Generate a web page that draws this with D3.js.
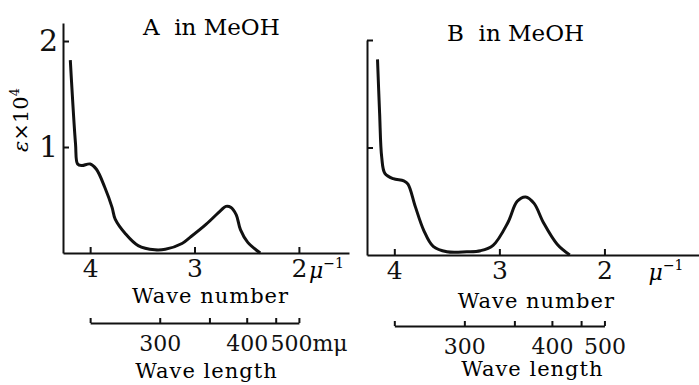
<!DOCTYPE html>
<html>
  <head>
    <meta charset="utf-8" />
    <title>UV spectra A and B in MeOH</title>
    <script src="https://d3js.org/d3.v7.min.js"></script>
    <style>
      body {
        margin: 0;
        background: #fff;
      }
      .domain, .tick line {
        stroke: #111;
        stroke-width: 2;
      }
    </style>
  </head>
  <body>
    <svg id="chart"></svg>
    <script>
      // wave number (mu^-1) and epsilon x 10^4
      var waveA = [4.19, 4.14, 4.12, 4.08, 4.00, 3.94, 3.86, 3.79, 3.76, 3.66, 3.54, 3.38, 3.28, 3.12, 3.04, 2.89, 2.75, 2.70, 2.65, 2.60, 2.56, 2.49, 2.37];
      var epsA  = [1.82, 1.03, 0.84, 0.825, 0.84, 0.79, 0.62, 0.43, 0.32, 0.18, 0.07, 0.03, 0.035, 0.09, 0.15, 0.27, 0.40, 0.44, 0.43, 0.36, 0.22, 0.10, 0];
      var waveB = [4.16, 4.14, 4.12, 4.09, 4.01, 3.91, 3.87, 3.80, 3.72, 3.63, 3.50, 3.31, 3.18, 3.06, 2.92, 2.83, 2.75, 2.67, 2.58, 2.45, 2.33];
      var epsB  = [1.82, 1.32, 0.91, 0.76, 0.71, 0.69, 0.66, 0.45, 0.23, 0.08, 0.03, 0.03, 0.04, 0.09, 0.30, 0.50, 0.54, 0.48, 0.30, 0.10, 0];

      var waveTicks = [4, 3, 2];
      var epsTicks = [1, 2];
      var lengthTicks = [250, 300, 350, 400, 450, 500];
      var lengthLabels = [300, 400, 500];

      var width = 699;
      var height = 385;
      var serif = "'DejaVu Serif', 'Liberation Serif', serif";

      var svg = d3.select("#chart")
        .attr("width", width)
        .attr("height", height)
        .attr("font-family", serif);

      var panels = [
        {
          name: "A", wave: waveA, eps: epsA,
          xDomain: [4.26, 1.52], xRange: [63, 349],
          yDomain: [0, 2.17], yRange: [253, 23],
          yLabels: true, unitAfter: true, lastLabel: "500mμ",
          title: [143, 35], capShift: 16, numY: 303, lenY: 323, lenTitleY: 378
        },
        {
          name: "B", wave: waveB, eps: epsB,
          xDomain: [4.26, 1.10], xRange: [367, 699],
          yDomain: [0, 2], yRange: [255, 40],
          yLabels: false, unitAfter: false, lastLabel: "500",
          title: [447, 41], capShift: 37, numY: 308, lenY: 326, lenTitleY: 376
        }
      ];

      panels.forEach(function(p) {
        var g = svg.append("g");

        var x = d3.scaleLinear().domain(p.xDomain).range(p.xRange);
        var y = d3.scaleLinear().domain(p.yDomain).range(p.yRange);
        // wave length in m-mu, wave number = 1000 / length
        var wl = d3.scalePow().exponent(-1).domain([250, 500]).range([x(4), x(2)]);

        // x axis (wave number)
        var xAxis = d3.axisBottom(x)
          .tickValues(waveTicks)
          .tickSizeInner(-6)
          .tickSizeOuter(0)
          .tickPadding(4)
          .tickFormat(d3.format("d"));
        var gx = g.append("g")
          .attr("transform", "translate(0," + y(0) + ")")
          .call(xAxis)
          .attr("font-family", serif);
        gx.selectAll("text")
          .attr("fill", "#111")
          .style("font-size", "25px")
          .attr("dy", "0.78em");

        // unit mu^-1
        var unit = g.append("text")
          .attr("y", y(0) + 25)
          .style("font-size", "22px")
          .style("font-style", "italic");
        unit.append("tspan").text("μ");
        unit.append("tspan").attr("dy", -10).style("font-size", "14px").style("font-style", "normal").text("−1");
        if (p.unitAfter) {
          unit.attr("x", x(2) + 10);
        } else {
          unit.attr("x", x(1.58));
        }

        // y axis
        var yAxis = d3.axisLeft(y)
          .tickValues(epsTicks)
          .tickSizeInner(-6)
          .tickSizeOuter(0)
          .tickPadding(p.yLabels ? 5 : 0)
          .tickFormat(p.yLabels ? d3.format("d") : "");
        var gy = g.append("g")
          .attr("transform", "translate(" + x(p.xDomain[0]) + ",0)")
          .call(yAxis)
          .attr("font-family", serif);
        gy.selectAll("text")
          .attr("fill", "#111")
          .style("font-size", "30px");

        // spectrum
        var line = d3.line()
          .x(function(d, i) { return x(p.wave[i]); })
          .y(function(d) { return y(d); })
          .curve(d3.curveCatmullRom.alpha(0.5));
        g.append("path")
          .datum(p.eps)
          .attr("d", line)
          .attr("fill", "none")
          .attr("stroke", "#111")
          .attr("stroke-width", 3)
          .attr("stroke-linejoin", "round");

        // title
        g.append("text")
          .attr("x", p.title[0])
          .attr("y", p.title[1])
          .style("font-size", "23px")
          .attr("xml:space", "preserve")
          .text(p.name + "  in MeOH");

        // wave number caption
        g.append("text")
          .attr("x", (x(4) + x(2)) / 2 + p.capShift)
          .attr("y", p.numY)
          .attr("text-anchor", "middle")
          .style("font-size", "21px")
          .style("letter-spacing", "1px")
          .text("Wave number");

        // wave length axis
        var lenAxis = d3.axisBottom(wl)
          .tickValues(lengthTicks)
          .tickSizeInner(-5)
          .tickSizeOuter(0)
          .tickPadding(12)
          .tickFormat(function(d) {
            if (d === 500) return p.lastLabel;
            return lengthLabels.indexOf(d) >= 0 ? d : "";
          });
        var gl = g.append("g")
          .attr("transform", "translate(0," + p.lenY + ")")
          .call(lenAxis)
          .attr("font-family", serif);
        gl.selectAll(".domain").attr("stroke-width", 1.5);
        gl.selectAll(".tick line").attr("stroke-width", 1.5);
        gl.selectAll("text")
          .attr("fill", "#111")
          .style("font-size", "22px")
          .attr("dy", "0.72em");
        if (p.unitAfter) {
          gl.selectAll(".tick").filter(function(d) { return d === 500; })
            .select("text")
            .attr("text-anchor", "start")
            .attr("x", -29);
        }

        g.append("text")
          .attr("x", (x(4) + x(2)) / 2 + p.capShift - 4)
          .attr("y", p.lenTitleY)
          .attr("text-anchor", "middle")
          .style("font-size", "21px")
          .style("letter-spacing", "1px")
          .text("Wave length");
      });

      // y axis caption
      var yCap = svg.append("text")
        .attr("transform", "translate(28,120) rotate(-90)")
        .attr("text-anchor", "middle")
        .style("font-size", "21px");
      yCap.append("tspan").style("font-style", "italic").text("ε");
      yCap.append("tspan").text("×10");
      yCap.append("tspan").attr("dy", -9).style("font-size", "13px").text("4");
    </script>
  </body>
</html>
